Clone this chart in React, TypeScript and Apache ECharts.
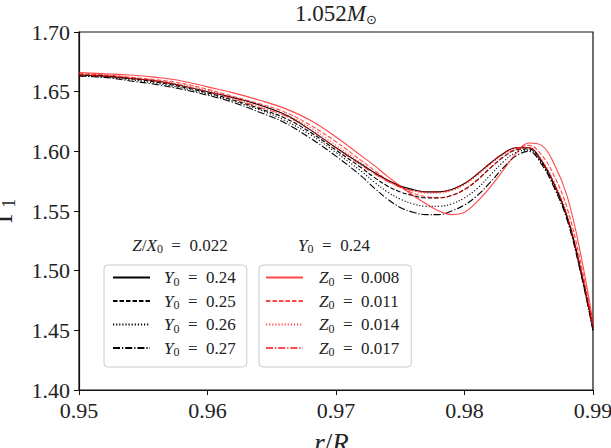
import React, { useEffect, useRef } from "react";
import * as echarts from "echarts";

// radius grid r/R*
const X = [0.95, 0.952, 0.954, 0.956, 0.958, 0.96, 0.962, 0.964, 0.966, 0.968, 0.97, 0.972, 0.973, 0.974, 0.975, 0.976, 0.977, 0.978, 0.979, 0.98, 0.981, 0.982, 0.983, 0.984, 0.985, 0.986, 0.987, 0.988, 0.989, 0.99];

// Z/X0 = 0.022, varying Y0 (black)
const Y024 = [1.664, 1.663, 1.661, 1.659, 1.655, 1.65, 1.645, 1.639, 1.631, 1.618, 1.603, 1.589, 1.582, 1.576, 1.571, 1.568, 1.566, 1.566, 1.568, 1.573, 1.581, 1.59, 1.598, 1.603, 1.603, 1.592, 1.572, 1.545, 1.503, 1.452];
const Y025 = [1.664, 1.663, 1.661, 1.658, 1.654, 1.649, 1.643, 1.636, 1.628, 1.616, 1.601, 1.586, 1.578, 1.571, 1.566, 1.563, 1.561, 1.561, 1.563, 1.568, 1.576, 1.586, 1.595, 1.601, 1.602, 1.591, 1.571, 1.544, 1.502, 1.451];
const Y026 = [1.663, 1.662, 1.66, 1.657, 1.653, 1.648, 1.642, 1.635, 1.626, 1.614, 1.599, 1.583, 1.574, 1.566, 1.56, 1.556, 1.554, 1.554, 1.556, 1.561, 1.569, 1.58, 1.591, 1.599, 1.601, 1.59, 1.57, 1.543, 1.501, 1.45];
const Y027 = [1.663, 1.662, 1.659, 1.656, 1.652, 1.647, 1.641, 1.633, 1.624, 1.611, 1.596, 1.579, 1.569, 1.56, 1.553, 1.549, 1.547, 1.547, 1.55, 1.555, 1.563, 1.574, 1.586, 1.596, 1.6, 1.589, 1.569, 1.542, 1.5, 1.45];

// Y0 = 0.24, varying Z0 (red)
const Z008 = [1.666, 1.665, 1.664, 1.662, 1.659, 1.654, 1.649, 1.643, 1.636, 1.626, 1.612, 1.596, 1.588, 1.579, 1.571, 1.563, 1.556, 1.55, 1.547, 1.549, 1.558, 1.57, 1.584, 1.598, 1.607, 1.605, 1.589, 1.562, 1.516, 1.457];
const Z011 = [1.665, 1.664, 1.662, 1.66, 1.657, 1.652, 1.646, 1.64, 1.633, 1.622, 1.608, 1.592, 1.584, 1.576, 1.57, 1.565, 1.562, 1.561, 1.563, 1.568, 1.576, 1.586, 1.595, 1.602, 1.605, 1.597, 1.579, 1.552, 1.509, 1.454];
const Z014 = [1.665, 1.664, 1.662, 1.659, 1.656, 1.651, 1.645, 1.638, 1.631, 1.62, 1.605, 1.59, 1.582, 1.575, 1.57, 1.567, 1.565, 1.565, 1.567, 1.572, 1.58, 1.589, 1.597, 1.602, 1.603, 1.593, 1.574, 1.547, 1.505, 1.453];
const Z017 = [1.664, 1.663, 1.661, 1.659, 1.655, 1.65, 1.644, 1.637, 1.63, 1.618, 1.603, 1.588, 1.581, 1.575, 1.57, 1.567, 1.566, 1.566, 1.568, 1.573, 1.581, 1.59, 1.598, 1.603, 1.603, 1.592, 1.572, 1.545, 1.503, 1.452];

const BLACK_NAMES = ["Y0 = 0.24", "Y0 = 0.25", "Y0 = 0.26", "Y0 = 0.27"];
const RED_NAMES = ["Z0 = 0.008", "Z0 = 0.011", "Z0 = 0.014", "Z0 = 0.017"];
const X_TICKS = [0.95, 0.99, 0.01];
const Y_TICKS = [1.4, 1.7, 0.05];

const FONT = "Liberation Serif";
const RED = "rgba(255,0,0,0.72)";
const DASHES: any[] = ["solid", [4.5, 2], [1.2, 1.9], [7, 2, 1.2, 2]];

const mathRich = (size: number) => ({
  i: { fontFamily: FONT, fontStyle: "italic", fontSize: size, lineHeight: 20, color: "#222" },
  t: { fontFamily: FONT, fontSize: size, lineHeight: 20, color: "#222" },
  s: { fontFamily: FONT, fontSize: Math.round(size * 0.7), lineHeight: 20, color: "#222", verticalAlign: "bottom" },
  gl: { width: 9, fontSize: 4 },
  gr: { width: 11, fontSize: 4 },
});

const legendFmt = (gap: string) => (name: string) => {
  const [lhs, rhs] = name.split(" = ");
  return `{${gap}| }{i|${lhs[0]}}{s|${lhs.slice(1)}}{t|\u2002=\u2002${rhs}}`;
};

const tickLabel = {
  fontFamily: FONT,
  fontSize: 22,
  color: "#222",
  margin: 9,
  formatter: (v: number) => v.toFixed(2),
};

export default function App() {
  const ref = useRef<HTMLDivElement>(null);
  useEffect(() => {
    if (!ref.current) return;
    const chart = echarts.init(ref.current, undefined, { renderer: "svg" });
    const mk = (name: string, ys: number[], color: string, dash: any, z: number) => ({
      type: "line",
      name,
      data: X.map((x, i) => [x, ys[i]]),
      symbol: "none",
      showSymbol: false,
      smooth: 0.4,
      z,
      lineStyle: { color, width: 1.1, type: dash },
      itemStyle: { color },
    });
    const blacks = [Y024, Y025, Y026, Y027];
    const reds = [Z008, Z011, Z014, Z017];
    const series: any[] = [
      ...blacks.map((ys, i) => mk(BLACK_NAMES[i], ys, "#000", DASHES[i], 2)),
      ...reds.map((ys, i) => mk(RED_NAMES[i], ys, RED, DASHES[i], 3)),
    ];
    const legendBase = {
      orient: "vertical",
      top: 265,
      itemWidth: 37,
      itemHeight: 14,
      itemGap: 5,
      selectedMode: false,
      borderColor: "#cccccc",
      borderWidth: 1,
      borderRadius: 4,
      backgroundColor: "rgba(255,255,255,0.8)",
      itemStyle: { opacity: 0 },
    };
    chart.setOption({
      animation: false,
      textStyle: { fontFamily: FONT },
      grid: {
        left: 79, right: 18, top: 32, bottom: 58,
        outerBoundsMode: "none",
        containLabel: false,
        show: true, borderColor: "#111", borderWidth: 1.2,
      },
      xAxis: {
        type: "value",
        min: X_TICKS[0],
        max: X_TICKS[1],
        interval: X_TICKS[2],
        splitLine: { show: false },
        axisLine: { show: true, lineStyle: { color: "#111", width: 1.2 } },
        axisTick: { show: true, length: 5, lineStyle: { color: "#111" } },
        axisLabel: tickLabel,
        name: "{i|r}{t|/}{i|R}{s|\u22c6}",
        nameLocation: "middle",
        nameGap: 38,
        nameTextStyle: {
          rich: {
            i: { fontFamily: FONT, fontStyle: "italic", fontSize: 27, color: "#222", lineHeight: 30 },
            t: { fontFamily: FONT, fontSize: 27, color: "#222", lineHeight: 30 },
            s: { fontFamily: "DejaVu Serif", fontSize: 15, color: "#222", lineHeight: 30, verticalAlign: "bottom" },
          },
        },
      },
      yAxis: {
        type: "value",
        min: Y_TICKS[0],
        max: Y_TICKS[1],
        interval: Y_TICKS[2],
        splitLine: { show: false },
        axisLine: { show: true, lineStyle: { color: "#111", width: 1.2 } },
        axisTick: { show: true, length: 5, lineStyle: { color: "#111" } },
        axisLabel: tickLabel,
        name: "{g|\u0393}{s|1}",
        nameLocation: "middle",
        nameRotate: 90,
        nameGap: 61,
        nameTextStyle: {
          rich: {
            g: { fontFamily: FONT, fontSize: 27, color: "#222", lineHeight: 30 },
            s: { fontFamily: FONT, fontSize: 18, color: "#222", lineHeight: 30, verticalAlign: "bottom" },
          },
        },
      },
      legend: [
        {
          ...legendBase,
          left: 104,
          padding: [4, 11, 9, 8],
          data: BLACK_NAMES,
          formatter: legendFmt("gl"),
          textStyle: { fontFamily: FONT, rich: mathRich(17) },
        },
        {
          ...legendBase,
          left: 259,
          padding: [4, 12, 9, 6],
          data: RED_NAMES,
          formatter: legendFmt("gr"),
          textStyle: { fontFamily: FONT, rich: mathRich(17) },
        },
      ],
      graphic: [
        {
          type: "text",
          x: 336,
          y: 13,
          style: {
            text: "{t|1.052}{i|M}{s|\u2299}",
            align: "center",
            verticalAlign: "middle",
            rich: {
              t: { fontFamily: FONT, fontSize: 23, fill: "#222", lineHeight: 26 },
              i: { fontFamily: FONT, fontStyle: "italic", fontSize: 23, fill: "#222", lineHeight: 26 },
              s: { fontFamily: "DejaVu Sans", fontSize: 13, fill: "#222", lineHeight: 26, verticalAlign: "bottom" },
            },
          },
        },
        {
          type: "text",
          x: 180,
          y: 245,
          style: {
            text: "{i|Z}{t|/}{i|X}{s|0}{t|\u2002=\u20020.022}",
            align: "center",
            verticalAlign: "middle",
            rich: {
              t: { fontFamily: FONT, fontSize: 17, fill: "#222", lineHeight: 20 },
              i: { fontFamily: FONT, fontStyle: "italic", fontSize: 17, fill: "#222", lineHeight: 20 },
              s: { fontFamily: FONT, fontSize: 12, fill: "#222", lineHeight: 20, verticalAlign: "bottom" },
            },
          },
        },
        {
          type: "text",
          x: 334,
          y: 245,
          style: {
            text: "{i|Y}{s|0}{t|\u2002=\u20020.24}",
            align: "center",
            verticalAlign: "middle",
            rich: {
              t: { fontFamily: FONT, fontSize: 17, fill: "#222", lineHeight: 20 },
              i: { fontFamily: FONT, fontStyle: "italic", fontSize: 17, fill: "#222", lineHeight: 20 },
              s: { fontFamily: FONT, fontSize: 12, fill: "#222", lineHeight: 20, verticalAlign: "bottom" },
            },
          },
        },
      ],
      series,
    });
    return () => chart.dispose();
  }, []);
  return <div ref={ref} style={{ position: "absolute", left: 0, top: 0, width: 611, height: 448 }} />;
}
